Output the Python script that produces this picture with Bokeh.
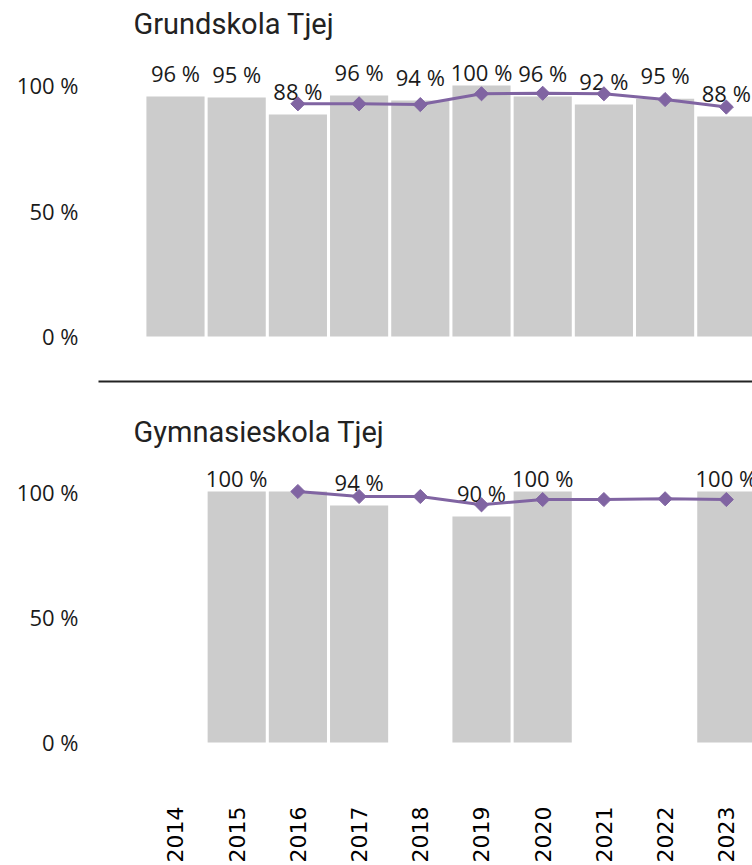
import math
from bokeh.plotting import figure
from bokeh.layouts import column
from bokeh.models import ColumnDataSource, FixedTicker, Range1d
from bokeh.core.properties import value
from bokeh.embed import file_html
from bokeh.resources import INLINE

# ---------------- data ----------------
years = [2014, 2015, 2016, 2017, 2018, 2019, 2020, 2021, 2022, 2023]
year_labels = {y: str(y) for y in years}

grund_title = "Grundskola Tjej"
grund_bar_years = [2014, 2015, 2016, 2017, 2018, 2019, 2020, 2021, 2022, 2023]
grund_bars = [95.6, 95.2, 88.4, 96.0, 94.0, 100.0, 95.6, 92.4, 94.7, 87.6]
grund_label_years = [2014, 2015, 2016, 2017, 2018, 2019, 2020, 2021, 2022, 2023]
grund_line_years = [2016, 2017, 2018, 2019, 2020, 2021, 2022, 2023]
grund_line = [92.7, 92.7, 92.4, 96.7, 96.9, 96.7, 94.4, 91.4]

gym_title = "Gymnasieskola Tjej"
gym_bar_years = [2015, 2016, 2017, 2019, 2020, 2023]
gym_bars = [100.0, 100.0, 94.4, 90.0, 100.0, 100.0]
gym_label_years = [2015, 2017, 2019, 2020, 2023]
gym_line_years = [2016, 2017, 2018, 2019, 2020, 2021, 2022, 2023]
gym_line = [100.0, 98.0, 98.0, 94.7, 96.8, 96.8, 97.1, 96.8]

y_ticks = [0, 50, 100]
y_tick_labels = {0: "0 %", 50: "50 %", 100: "100 %"}

BAR_COLOR = "#cccccc"
LINE_COLOR = "#8064a2"
TEXT_COLOR = "#1a1a1a"
TITLE_COLOR = "#222222"
X_START, X_END = 2012.742, 2023.428
LABEL_GAP = 9.56    # data units between bar top and label centre
LABEL_MAX = 105.2   # labels are kept inside the plot area


def panel(title, bx, by, lx, line_x, line_y, height, y_start, y_end,
          mb_top, mb_bottom, show_years):
    p = figure(width=752, height=height, output_backend="svg",
               toolbar_location=None,
               x_range=Range1d(X_START, X_END), y_range=Range1d(y_start, y_end),
               min_border_left=98, min_border_right=0,
               min_border_top=mb_top, min_border_bottom=mb_bottom)
    p.title.text = title
    p.title.text_font = "Roboto"
    p.title.text_font_size = "29px"
    p.title.text_font_style = "normal"
    p.title.text_color = TITLE_COLOR
    p.title.align = "left"
    p.title.offset = 35
    p.title.standoff = 8
    p.outline_line_color = None
    p.xgrid.visible = False
    p.ygrid.visible = False

    bar_src = ColumnDataSource(dict(x=bx, top=by))
    p.vbar(x="x", top="top", width=0.95, source=bar_src,
           fill_color=BAR_COLOR, line_color=None)

    lab_vals = [by[bx.index(x)] for x in lx]
    lab_src = ColumnDataSource(dict(
        x=lx, y=[min(v + LABEL_GAP, LABEL_MAX) for v in lab_vals],
        t=[f"{round(v)} %" for v in lab_vals]))
    p.text(x="x", y="y", text="t", source=lab_src, text_align="center",
           text_baseline="middle",
           text_font_size="22px", text_font=value("Open Sans"),
           text_color=TEXT_COLOR)

    line_src = ColumnDataSource(dict(x=line_x, y=line_y))
    p.line(x="x", y="y", source=line_src, line_color=LINE_COLOR, line_width=3)
    p.scatter(x="x", y="y", source=line_src, marker="square", angle=math.pi / 4,
              size=10, fill_color=LINE_COLOR, line_color=LINE_COLOR)

    ya = p.yaxis[0]
    ya.ticker = FixedTicker(ticks=y_ticks)
    ya.major_label_overrides = y_tick_labels
    ya.axis_line_color = None
    ya.major_tick_line_color = None
    ya.minor_tick_line_color = None
    ya.major_label_standoff = 14
    ya.major_label_text_font = "Open Sans"
    ya.major_label_text_font_size = "22px"
    ya.major_label_text_color = TEXT_COLOR

    xa = p.xaxis[0]
    xa.major_tick_line_color = None
    xa.minor_tick_line_color = None
    if show_years:
        xa.ticker = FixedTicker(ticks=years)
        xa.major_label_overrides = year_labels
        xa.major_label_orientation = math.pi / 2
        xa.major_label_text_font = "DejaVu Sans"
        xa.major_label_text_font_size = "22px"
        xa.major_label_text_color = "#000000"
        xa.major_label_standoff = 30
        xa.axis_line_color = None
    else:
        xa.ticker = FixedTicker(ticks=[])
        xa.axis_line_color = "#222222"
        xa.axis_line_width = 2
    return p


p1 = panel(grund_title, grund_bar_years, grund_bars, grund_label_years,
           grund_line_years, grund_line, 408, -17.93, 116.33, 44, 27, False)
p2 = panel(gym_title, gym_bar_years, gym_bars, gym_label_years,
           gym_line_years, gym_line, 457, -11.16, 115.54, 44, 95, True)

p = column(p1, p2, spacing=0)
open("out.html", "w").write(file_html(p, INLINE))
